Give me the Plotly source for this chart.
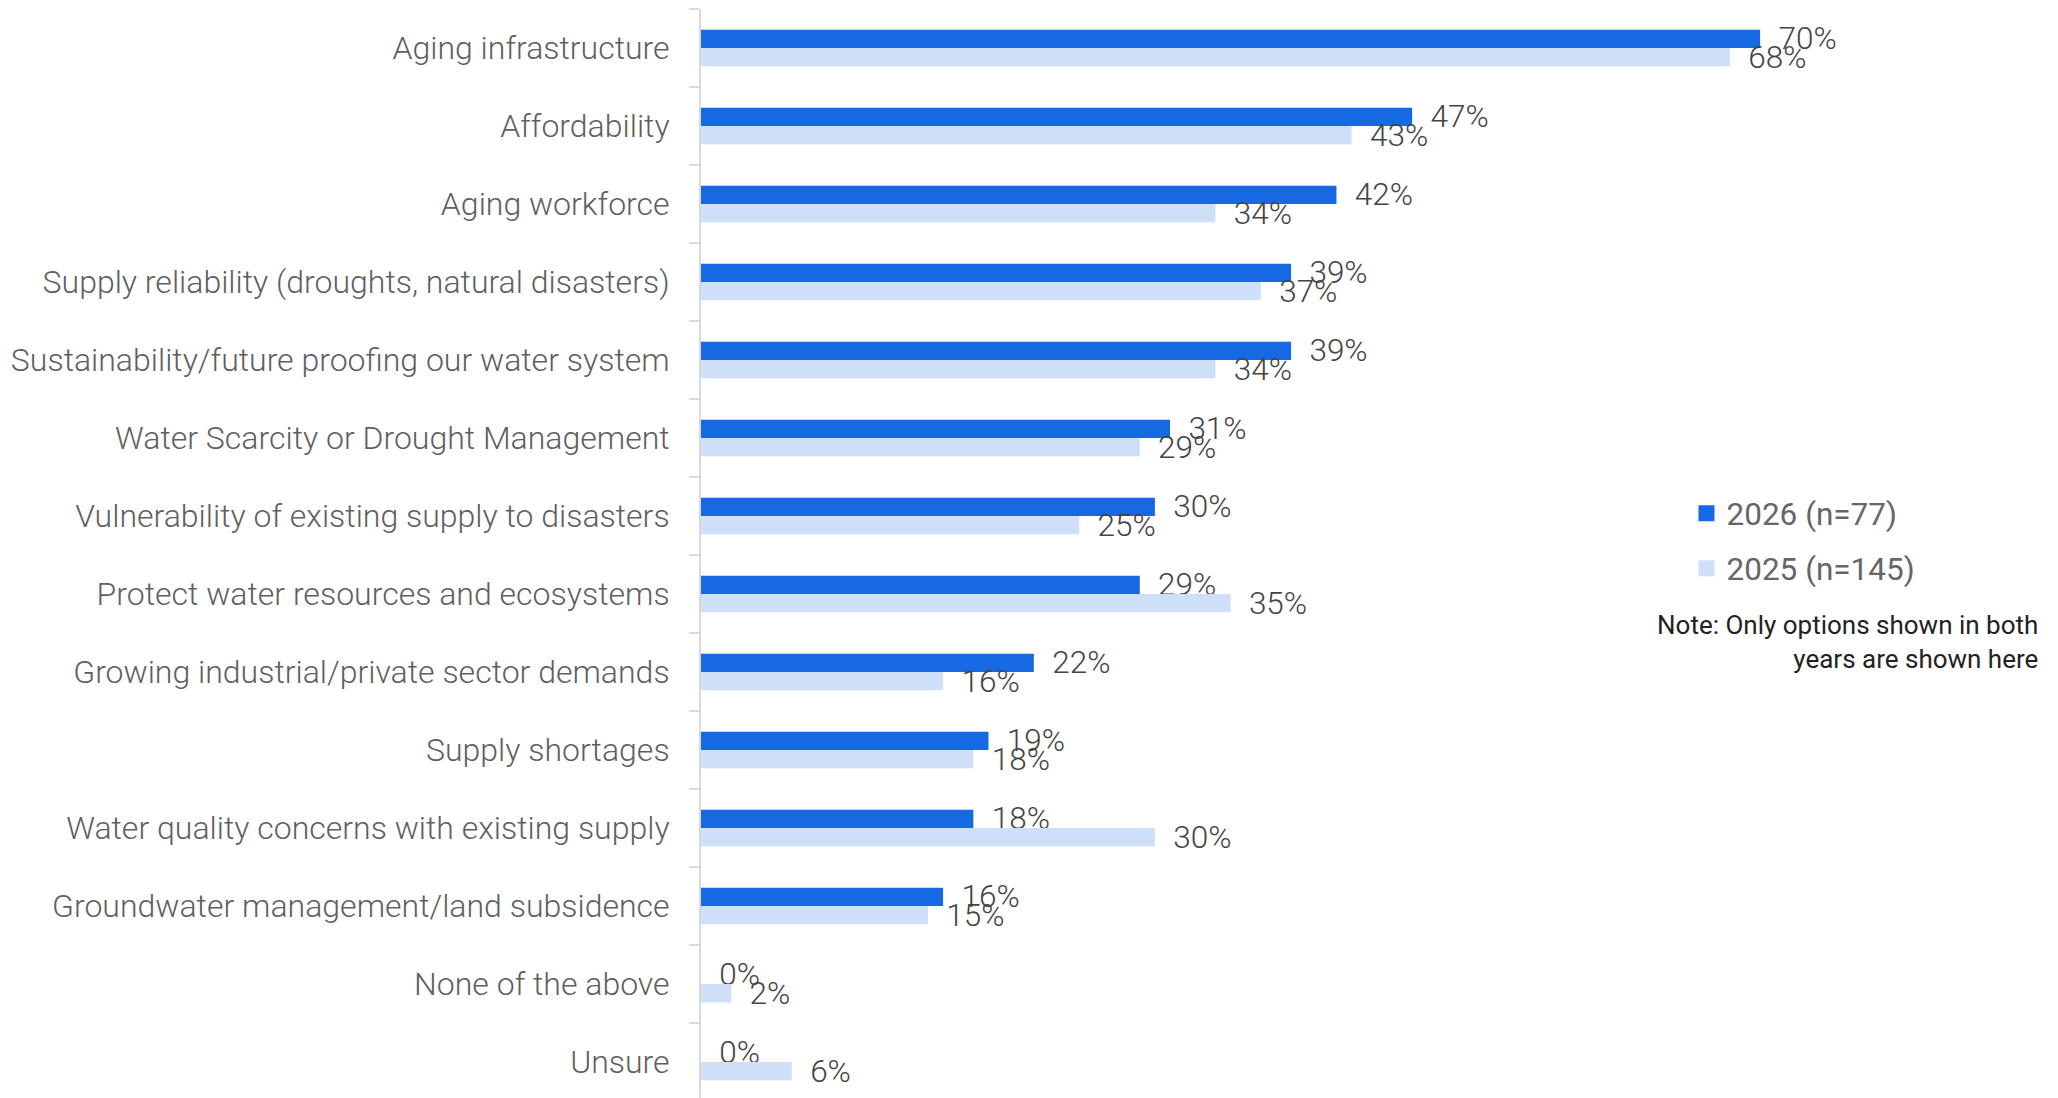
import plotly.graph_objects as go

categories = [
    "Aging infrastructure",
    "Affordability",
    "Aging workforce",
    "Supply reliability (droughts, natural disasters)",
    "Sustainability/future proofing our water system",
    "Water Scarcity or Drought Management",
    "Vulnerability of existing supply to disasters",
    "Protect water resources and ecosystems",
    "Growing industrial/private sector demands",
    "Supply shortages",
    "Water quality concerns with existing supply",
    "Groundwater management/land subsidence",
    "None of the above",
    "Unsure",
]
values_2026 = [70, 47, 42, 39, 39, 31, 30, 29, 22, 19, 18, 16, 0, 0]
values_2025 = [68, 43, 34, 37, 34, 29, 25, 35, 16, 18, 30, 15, 2, 6]
series_names = ["2026 (n=77)", "2025 (n=145)"]
series_colors = ["#1669E2", "#CFDFF8"]
note_text = "Note: Only options shown in both<br>years are shown here"

W, H = 2058, 1098
ML, MR, MT, MB = 693, 26, 1, 5
XMAX = 88.5

label_font = dict(family="Roboto", size=32, color="#5f5f5f", weight=300)
value_font = dict(family="Roboto", size=31.5, color="#444444", weight=300)

fig = go.Figure()
for name, vals, col in zip(series_names, [values_2026, values_2025], series_colors):
    fig.add_trace(go.Bar(
        y=categories, x=vals, orientation="h", name=name,
        marker=dict(color=col, line=dict(width=0)),
        text=[f"\u00a0\u00a0{v}%" for v in vals],
        textposition="outside", constraintext="none", cliponaxis=False,
        textfont=value_font, showlegend=False, hoverinfo="skip",
    ))

# legend entries with larger square swatches
for i, (name, col) in enumerate(zip(series_names, series_colors)):
    fig.add_trace(go.Scatter(
        x=[None], y=[None], mode="markers", name=name,
        marker=dict(symbol="square", size=16, color=col),
        legendgroup=f"g{i}", showlegend=True,
    ))

fig.update_layout(
    width=W, height=H,
    margin=dict(l=ML, r=MR, t=MT, b=MB, pad=0),
    paper_bgcolor="white", plot_bgcolor="white",
    barmode="group", bargap=0.53, bargroupgap=0,
    font=dict(family="Roboto", color="#5f5f5f"),
    showlegend=True,
    legend=dict(
        x=0.736, y=0.563, xanchor="left", yanchor="top",
        font=dict(family="Roboto", size=31.5, color="#666666"),
        traceorder="grouped", tracegroupgap=11,
        itemwidth=30, bgcolor="rgba(0,0,0,0)",
    ),
    xaxis=dict(range=[0, XMAX], visible=False, fixedrange=True),
    yaxis=dict(
        type="category", categoryorder="array", categoryarray=categories,
        autorange="reversed",
        showline=True, linecolor="#d9d9d9", linewidth=2,
        ticks="outside", tickson="boundaries", ticklen=10, tickcolor="#d9d9d9",
        tickwidth=2, ticklabelstandoff=23,
        tickfont=label_font, showgrid=False, zeroline=False,
    ),
    annotations=[dict(
        text=note_text, xref="paper", yref="paper", x=1.0, y=0.42,
        xanchor="right", yanchor="middle", align="right", showarrow=False,
        font=dict(family="Roboto", size=26, color="#222222"),
    )],
)

fig.write_html("out.html")
